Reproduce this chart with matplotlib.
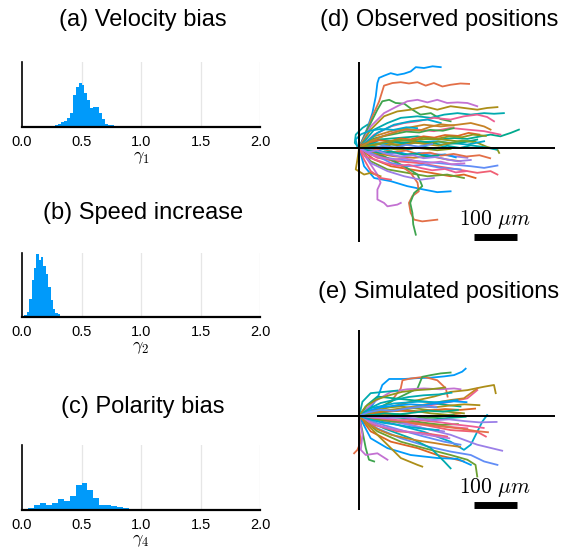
import numpy as np
import matplotlib
matplotlib.use("Agg")
import matplotlib.pyplot as plt

plt.rcParams["font.family"] = ["Liberation Sans", "DejaVu Sans"]
plt.rcParams["mathtext.fontset"] = "cm"

# ---- histogram data (bin edges + heights, arbitrary units) ----
gamma1_edges = np.arange(0.275, 0.8001, 0.025)
gamma1_heights = [2, 3, 5, 6, 9, 14, 32, 40, 44, 42, 34, 27, 19, 20, 20, 14, 8, 3, 2, 2, 1]

gamma2_edges = np.arange(0.0, 0.3401, 0.02)
gamma2_heights = [1, 2, 5, 18, 38, 50, 64, 58, 61, 52, 44, 30, 17, 8, 4, 3, 1]

gamma4_edges = np.arange(0.05, 0.9001, 0.05)
gamma4_heights = [2, 5, 6.7, 5, 7, 11, 9.3, 14, 25, 27, 20, 12, 5.5, 5, 4.3, 3.3, 1.7]

hist_titles = ["(a) Velocity bias", "(b) Speed increase", "(c) Polarity bias"]
hist_xlabels = [r"$\gamma_1$", r"$\gamma_2$", r"$\gamma_4$"]
hist_ticks = [0.0, 0.5, 1.0, 1.5, 2.0]

# ---- trajectories in micrometres (observed) ----
obs_x = [
    [0, 7.8, 19.4, 31, 38.8, 42.6, 46.5, 58, 73.6, 89, 105, 120, 132, 151, 171, 190],
    [0, 15.5, 31, 46.5, 58, 77.5, 97, 116, 136, 155, 174, 194, 213, 236, 256],
    [0, 19.4, 42.6, 54, 70, 85, 105, 124, 143, 167, 190, 213],
    [0, 27, 58, 89, 112, 136, 159, 182, 205, 229, 252, 275],
    [0, 27, 58, 89, 120, 151, 182, 213, 244, 275, 298, 322],
    [0, 35, 66, 97, 136, 167, 198, 229, 260, 291, 314, 337],
    [0, 35, 74, 105, 136, 174, 213, 244, 275, 298, 314],
    [0, 35, 74, 112, 151, 190, 229, 260, 291, 306],
    [0, 42.6, 89, 136, 182, 221, 252, 283, 306, 329, 353, 372],
    [0, 42.6, 89, 136, 182, 229, 267, 298, 322, 326],
    [0, 35, 81, 128, 174, 213, 252, 291],
    [0, 35, 74, 112, 151, 190, 221, 252],
    [0, 42.6, 89, 136, 182, 221, 260, 291, 322],
    [0, 42.6, 89, 136, 182, 229, 275, 306, 322],
    [0, 35, 74, 120, 167, 213, 244, 271],
    [0, 27, 66, 112, 159, 205, 244],
    [0, 11.6, 35, 74, 112, 151, 182, 213],
    [0, 50, 89, 120, 136, 139, 124, 116, 120, 128, 147, 182],
    [0, 58, 105, 136, 147, 128, 119, 124, 126, 132],
    [0, 19.4, 42.6, 50, 42.6, 42.6, 58, 66, 89, 97],
    [0, -3.9, -7.8, 11.6, 27, 50],
    [0, -10, -7.8, 7.8, 19.4],
    [0, 42.6, 89, 136, 174, 213, 252, 291, 329],
    [0, 35, 81, 128, 167, 205, 236],
    [0, 50, 97, 143, 190, 236, 275],
    [0, 42.6, 89, 136, 182, 213],
    [0, 42.6, 81, 120, 159, 190],
    [0, 27, 66, 105, 143, 174],
    [0, 35, 74, 112, 151, 190, 236],
    [0, 11.6, 27, 50, 74],
    [0, 20, 45, 70, 95, 120, 150, 175, 200, 230, 255, 280],
    [0, 25, 50, 75, 100, 130, 160, 185, 210, 240, 265],
    [0, 20, 40, 65, 90, 115, 140, 170, 200, 225],
    [0, 30, 55, 80, 110, 135, 165, 190, 220, 250, 280, 305],
    [0, 15, 35, 60, 85, 110, 140, 165, 195, 220],
    [0, 25, 50, 80, 105, 135, 160, 190, 215, 245],
    [0, 20, 45, 75, 100, 130, 155, 185, 210],
    [0, 30, 60, 90, 115, 145, 175, 205, 235, 260, 290, 320],
    [0, 15, 40, 60, 90, 115, 145, 170, 200, 225, 250],
    [0, 25, 55, 80, 110, 140, 165, 190, 220],
    [0, 20, 50, 75, 105, 130, 160, 185],
    [0, 35, 65, 95, 125, 150, 180, 210, 240, 265, 295],
    [-5, -8, 5, 25, 50, 80, 110, 135],
    [0, 20, 40, 65, 95, 125, 150, 180, 205, 230, 260],
    [0, 30, 55, 85, 110, 140, 170],
]
obs_y = [
    [0, 19.4, 46.5, 81.4, 120, 151, 163, 168, 174, 170, 173, 178, 188, 186, 190, 188],
    [0, 35, 74, 108, 145, 151, 153, 150, 153, 145, 151, 143, 147, 150, 149],
    [0, 42.6, 89, 108.5, 112, 104.6, 103, 89, 77.5, 81, 67, 62],
    [0, 50, 81, 97, 108.5, 112, 106, 112, 104.6, 106, 104.6, 97],
    [0, 42.6, 73.6, 85, 89, 97, 89, 97, 93, 89, 93, 95],
    [0, 42.6, 58, 70, 73.6, 70, 77.5, 81, 77.5, 81, 79.5, 81],
    [0, 31, 50, 58, 62, 70, 66, 73.6, 77.5, 72, 62],
    [0, 27, 39, 46.5, 54, 50, 54, 58, 50, 42.6],
    [0, 19.4, 23, 27, 19.4, 23, 21, 27, 31, 27, 35, 42.6],
    [0, 7.8, 15.5, 19.4, 21, 15.5, 15.5, 2.3, -3.9, -11.6],
    [0, 11.6, 7.8, 11.6, 15.5, 11.6, 7.8, 15.5],
    [0, -7.8, -11.6, -15.5, -11.6, -15.5, -19.4, -23],
    [0, -19.4, -27, -31, -35, -39, -42.6, -46.5, -41],
    [0, -23, -31, -35, -42.6, -50, -58, -54, -62],
    [0, -27, -42.6, -50, -58, -66, -62, -70],
    [0, -31, -50, -58, -66, -62, -70],
    [0, -42.6, -70, -77.5, -89, -97, -103, -101],
    [0, -19.4, -35, -58, -81, -101, -112, -128, -151, -167, -171, -167],
    [0, -19.4, -42.6, -62, -89, -105, -128, -151, -178, -202],
    [0, -27, -62, -81, -97, -120, -128, -136, -132, -128],
    [0, -27, -50, -62, -58, -66],
    [0, 11.6, 31, 46.5, 54],
    [0, 23, 39, 42.6, 39, 46.5, 42.6, 39, 31],
    [0, -11.6, -19.4, -23, -19.4, -27, -31],
    [0, 19.4, 11.6, 15.5, 7.8, 11.6, 19.4],
    [0, 2.3, -3.9, 0, -5.4, -2.3],
    [0, 35, 54, 62, 66, 58],
    [0, -35, -54, -66, -74, -70],
    [0, -15.5, -35, -42.6, -39, -46.5, -50],
    [0, -27, -54, -70, -74],
    [5, 12, 18, 15, 22, 20, 27, 24, 30, 28, 35, 31],
    [-3, 4, 0, 8, 5, 12, 9, 15, 11, 17, 14],
    [0, -8, -4, -12, -9, -16, -12, -19, -15, -22],
    [2, -5, -2, -10, -6, -14, -11, -18, -14, -20, -17, -24],
    [0, 10, 22, 28, 33, 38, 36, 42, 40, 46],
    [0, -15, -22, -27, -24, -31, -35, -32, -38, -36],
    [0, 6, 2, 10, 6, 13, 9, 5, 11],
    [0, 3, -4, 2, -3, 4, -2, 5, 0, 6, 2, -4],
    [0, -20, -28, -35, -42, -39, -47, -52, -49, -57, -54],
    [0, 15, 27, 35, 44, 40, 49, 55, 52],
    [0, -5, -12, -8, -16, -13, -20, -17],
    [0, 8, 14, 19, 16, 24, 21, 27, 25, 31, 28],
    [5, 20, 32, 40, 44, 42, 48, 46],
    [0, -10, -6, -14, -20, -17, -24, -21, -27, -31, -28],
    [0, -2, 5, 1, 7, 3, 9],
]

# ---- trajectories in micrometres (simulated) ----
sim_x = [
    [0, 19.4, 42.6, 54, 70, 105, 136, 167, 198, 221, 240, 248],
    [0, 35, 74, 97, 101, 120, 151, 182, 202, 206],
    [0, 42.6, 89, 136, 147, 167, 190, 213],
    [0, 35, 74, 112, 151, 190, 221, 236],
    [0, 58, 120, 174, 213, 252, 291, 314, 318],
    [0, 7.8, 27, 58, 89],
    [0, 58, 120, 174, 213, 252, 275],
    [0, 42.6, 105, 167, 213, 244, 275],
    [0, 19.4, 42.6, 81, 120, 159, 198, 236],
    [0, 42.6, 97, 159, 205, 244],
    [0, 74, 151, 213, 244, 260, 275, 287, 298],
    [0, 58, 136, 213, 275, 333],
    [0, 42.6, 97, 159, 213, 260, 291, 322],
    [0, 74, 151, 213, 275, 295],
    [0, 27, 74, 136, 182, 213, 244],
    [0, 42.6, 97, 151, 213, 252, 271, 275],
    [0, 27, 66, 120, 182, 229, 260],
    [0, 0, 3.9, -3.9, -11.6],
    [0, 7.8, 15.5, 23, 35],
    [0, 7.8, 3.9, 15.5, 42.6, 66],
    [0, 42.6, 74, 97, 136, 147],
    [0, 58, 120, 167, 198, 213],
    [0, 42.6, 97, 151, 205, 252],
    [0, 42.6, 97, 151, 205, 236],
    [0, 50, 105, 159, 205, 248],
    [0, 58, 112, 167, 213],
    [0, 27, 81, 136, 182, 229],
    [0, 50, 105, 151, 198],
    [0, 42.6, 97, 151, 198, 236],
    [0, 35, 89, 151, 205],
    [0, 30, 60, 95, 130, 165, 200, 235, 270],
    [0, 25, 55, 90, 125, 160, 195, 230],
    [0, 20, 50, 85, 120, 150, 185, 220, 250],
    [0, 30, 65, 100, 135, 170, 205, 240, 270, 300],
    [0, 25, 55, 90, 120, 155, 190, 220],
    [0, 20, 45, 75, 110, 145, 175, 210],
    [0, 35, 70, 105, 140, 175, 210, 245, 280],
    [0, 25, 50, 85, 115, 150, 185, 215],
    [0, 30, 60, 90, 125, 160, 190, 225, 260, 290],
    [0, 20, 45, 75, 110, 140, 175, 205, 235],
    [0, 30, 60, 95, 130, 160, 195, 230],
    [0, 15, 40, 70, 100, 135, 165, 200],
    [0, 25, 55, 85, 120, 150, 185],
    [0, 30, 65, 100, 140, 175, 210, 245, 280, 320],
    [0, 20, 50, 80, 115, 150, 180],
]
sim_y = [
    [0, 10, 41, 72, 86, 86, 88, 89, 92, 95, 103, 110],
    [0, 10, 33, 64, 83, 87, 91, 83, 64, 45],
    [0, 17, 41, 64, 91, 95, 99, 101],
    [0, 33, 56, 62, 64, 62, 64, 62],
    [0, 17, 33, 45, 56, 60, 68, 72, 53],
    [0, 33, 53, 56, 59],
    [0, 10, 18, 26, 33, 41, 60],
    [0, 6, 18, 29, 37, 41, 64],
    [0, 26, 45, 41, 37, 33, 26, 22],
    [0, 18, 22, 14, 10, 6],
    [0, -17, -37, -60, -79, -67, -37, -13, 2],
    [0, -9, -25, -44, -67, -81],
    [0, -29, -52, -71, -83, -91, -106, -114],
    [0, -13, -21, -33, -37, -48],
    [0, -36, -60, -75, -91, -98, -106],
    [0, -36, -60, -75, -91, -102, -114, -141],
    [0, -52, -75, -91, -98, -100, -114],
    [0, -29, -60, -79, -87],
    [0, -36, -75, -102, -106],
    [0, -44, -79, -91, -87, -102],
    [0, -44, -75, -98, -114, -118],
    [0, -29, -52, -75, -106, -122],
    [0, -5, -13, -17, -25, -29],
    [0, 4, 2, -2, 2, 6],
    [0, -2, -5, -9, -5, -2],
    [0, 10, 14, 6, 2],
    [0, 18, 29, 33, 32, 37],
    [0, -9, -17, -29, -36],
    [0, -17, -33, -48, -60, -67],
    [0, -21, -36, -40, -48],
    [0, 6, 10, 12, 10, 13, 16, 14, 17],
    [0, -6, -10, -14, -12, -17, -21, -19],
    [0, 12, 20, 24, 27, 25, 30, 34, 32],
    [0, -3, -8, -12, -18, -22, -26, -30, -35, -38],
    [0, 3, -2, 4, 0, -5, -2, 3],
    [0, -12, -22, -30, -36, -42, -47, -52],
    [0, 9, 14, 18, 22, 20, 24, 27, 25],
    [0, 18, 30, 38, 44, 48, 50, 54],
    [0, -4, -6, -10, -8, -12, -15, -20, -24, -28],
    [0, -18, -32, -44, -52, -58, -63, -68, -72],
    [0, 2, 6, 4, 8, 12, 10, 14],
    [0, 22, 38, 48, 56, 60, 62, 66],
    [0, -8, -16, -20, -26, -30, -33],
    [0, -2, -5, -3, -7, -10, -8, -12, -15, -14],
    [0, 8, 14, 12, 18, 22, 20],
]

traj_titles = ["(d) Observed positions", "(e) Simulated positions"]
scale_len = 100  # micrometres

# Julia Plots default palette
palette = ["#009AFA", "#E36F47", "#3EA44E", "#C371D2", "#AC8E18", "#00AAAE",
           "#ED5E93", "#C68225", "#00A98D", "#8E971D", "#00A9CD", "#9B7FE8",
           "#618DF6", "#F05F73", "#DD6523", "#6CA033"]

W, H = 564, 554
fig = plt.figure(figsize=(W / 100, H / 100), dpi=100)

def fbox(x0, y0, x1, y1):
    # pixel box (top-left origin) -> figure rect
    return [x0 / W, 1 - y1 / H, (x1 - x0) / W, (y1 - y0) / H]

# ---- histograms ----
hist_boxes = [(22, 62, 260, 127), (22, 253, 260, 317), (22, 445, 260, 510)]
hist_title_y = [20, 213, 407]
hist_data = [(gamma1_edges, gamma1_heights), (gamma2_edges, gamma2_heights),
             (gamma4_edges, gamma4_heights)]
hist_ylim = [65, 65, 65]

for i in range(3):
    ax = fig.add_axes(fbox(*hist_boxes[i]))
    edges, heights = hist_data[i]
    ax.stairs(heights, edges, fill=True, color="#009AFA", linewidth=0)
    ax.set_xlim(0, 2.0)
    ax.set_ylim(0, hist_ylim[i])
    ax.set_xticks(hist_ticks)
    ax.set_xticklabels([f"{t:.1f}" for t in hist_ticks], fontsize=10.5)
    ax.set_yticks([])
    ax.tick_params(axis="x", length=0, pad=6)
    for t in [0.5, 1.0, 1.5, 2.0]:
        ax.axvline(t, color="#e6e6e6", lw=0.9, zorder=0)
    ax.spines["top"].set_visible(False)
    ax.spines["right"].set_visible(False)
    ax.spines["left"].set_linewidth(1.2)
    ax.spines["bottom"].set_linewidth(1.6)
    ax.set_xlabel(hist_xlabels[i], fontsize=13, labelpad=0)
    ax.patch.set_alpha(0)
    fig.text(143 / W, 1 - hist_title_y[i] / H, hist_titles[i], fontsize=17,
             ha="center", va="center")

# ---- trajectory panels ----
traj_boxes = [(317, 62, 555, 242), (317, 330, 555, 510)]
traj_title_y = [20, 292]
traj_data = [(obs_x, obs_y), (sim_x, sim_y)]

for i in range(2):
    ax = fig.add_axes(fbox(*traj_boxes[i]))
    xs, ys = traj_data[i]
    for k in range(len(xs)):
        ax.plot(xs[k], ys[k], color=palette[k % len(palette)], lw=1.3)
    ax.axhline(0, color="black", lw=1.4, zorder=5)
    ax.axvline(0, color="black", lw=1.4, zorder=5)
    ax.set_xlim(-98, 456)
    ax.set_ylim(-219, 200)
    ax.plot([267.5, 267.5 + scale_len], [-207, -207], color="black", lw=5,
            solid_capstyle="butt")
    ax.text(317, -167, r"$100\ \mu m$", fontsize=15.5, ha="center", va="center")
    ax.axis("off")
    fig.text(439 / W, 1 - traj_title_y[i] / H, traj_titles[i], fontsize=17,
             ha="center", va="center")

fig.savefig("out.png", dpi=100)
